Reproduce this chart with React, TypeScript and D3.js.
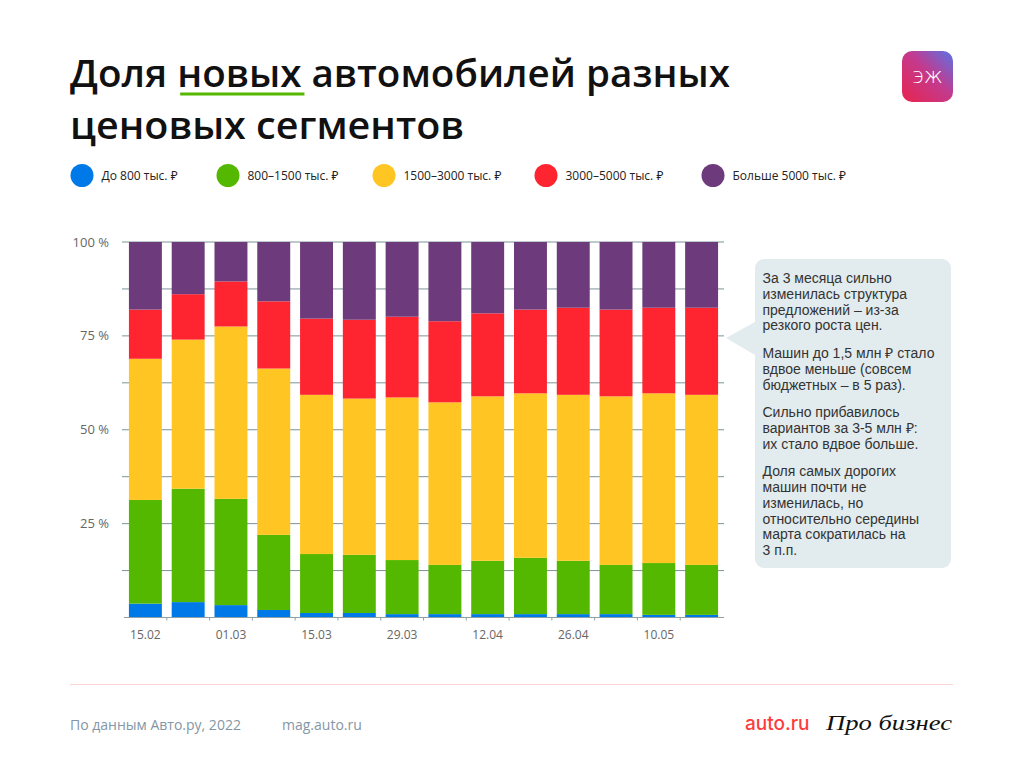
import React, { useLayoutEffect, useRef, useState } from "react";
import * as d3 from "d3";

const dates = ["15.02","22.02","01.03","08.03","15.03","22.03","29.03","05.04","12.04","19.04","26.04","03.05","10.05","17.05"];
const labeledDates = ["15.02","01.03","15.03","29.03","12.04","26.04","10.05"];
const seriesKeys = ["До 800 тыс. ₽","800–1500 тыс. ₽","1500–3000 тыс. ₽","3000–5000 тыс. ₽","Больше 5000 тыс. ₽"];
const seriesColors = ["#0079E8","#55B800","#FFC623","#FF2530","#6D3B7B"];

const under800 = [3.7,4.1,3.3,2.0,1.2,1.2,0.9,0.9,0.9,0.9,0.9,0.9,0.7,0.7];
const from800to1500 = [27.6,30.2,28.3,20.0,15.7,15.5,14.4,13.1,14.2,15.0,14.2,13.1,13.8,13.3];
const from1500to3000 = [37.6,39.7,45.9,44.3,42.4,41.6,43.3,43.3,43.8,43.8,44.2,44.9,45.2,45.3];
const from3000to5000 = [13.1,12.1,12.0,17.9,20.3,21.0,21.5,21.6,22.1,22.3,23.2,23.1,22.8,23.2];
const over5000 = [18.0,13.9,10.5,15.8,20.4,20.7,19.9,21.1,19.0,18.0,17.5,18.0,17.5,17.5];
const seriesValues = [under800, from800to1500, from1500to3000, from3000to5000, over5000];

const yTickValues = [25, 50, 75, 100];
const gridValues = [12.5, 25, 37.5, 50, 62.5, 75, 87.5, 100];

const titleLine1 = "Доля новых автомобилей разных";
const titleLine2 = "ценовых сегментов";
const noteParagraphs = [
  ["За 3 месяца сильно", "изменилась структура", "предложений – из-за", "резкого роста цен."],
  ["Машин до 1,5 млн ₽ стало", "вдвое меньше (совсем", "бюджетных – в 5 раз)."],
  ["Сильно прибавилось", "вариантов за 3-5 млн ₽:", "их стало вдвое больше."],
  ["Доля самых дорогих", "машин почти не", "изменилась, но", "относительно середины", "марта сократилась на", "3 п.п."],
];
const sourceText = "По данным Авто.ру, 2022";
const siteText = "mag.auto.ru";

const FONT = "'Open Sans', 'Noto Sans', sans-serif";
const NOTE_FONT = "'Liberation Sans', Arial, sans-serif";

export default function App() {
  const titleRef = useRef<SVGTextElement>(null);
  const [ul, setUl] = useState<{ x1: number; x2: number } | null>(null);

  useLayoutEffect(() => {
    const t = titleRef.current;
    if (t) {
      try {
        const s = t.getStartPositionOfChar(5).x;
        const e = t.getEndPositionOfChar(9).x;
        setUl({ x1: s, x2: e });
      } catch (err) {}
    }
  }, []);

  const rows = dates.map((d, i) => {
    const r: any = { date: d };
    seriesKeys.forEach((k, j) => (r[k] = seriesValues[j][i]));
    return r;
  });
  const stacked = d3.stack<any>().keys(seriesKeys)(rows);

  const x = d3.scaleBand<string>().domain(dates).range([124, 723]).paddingInner(0.23).paddingOuter(0.115);
  const y = d3.scaleLinear().domain([0, 100]).range([617.5, 242]);

  const legendX = [82, 228, 384, 546, 713];

  const noteLines: { text: string; y: number }[] = [];
  let ly = 283;
  noteParagraphs.forEach((p) => {
    p.forEach((line) => {
      noteLines.push({ text: line, y: ly });
      ly += 15.8;
    });
    ly += 11.7;
  });

  const bandEdges = dates.map((d) => (x(d) as number) - (x.step() - x.bandwidth()) / 2);

  return (
    <svg width={1024} height={768} style={{ position: "absolute", left: 0, top: 0, background: "#fff" }} fontFamily={FONT}>
      <defs>
        <linearGradient id="logoGrad" x1="0" y1="1" x2="1" y2="0">
          <stop offset="0%" stopColor="#E8244E" />
          <stop offset="55%" stopColor="#C33A8E" />
          <stop offset="100%" stopColor="#5873E4" />
        </linearGradient>
      </defs>

      {/* Title */}
      <text ref={titleRef} x={70} y={87} fontSize={37} fontWeight={600} fill="#111" textLength={660} lengthAdjust="spacingAndGlyphs">
        {titleLine1}
      </text>
      <text x={70} y={139} fontSize={37} fontWeight={600} fill="#111" textLength={394} lengthAdjust="spacingAndGlyphs">
        {titleLine2}
      </text>
      {ul && <rect x={ul.x1 + 3} y={92.5} width={ul.x2 - ul.x1} height={3} fill="#55B800" />}

      {/* Logo */}
      <rect x={902} y={51} width={51} height={51} rx={10} fill="url(#logoGrad)" />
      <text x={927.5} y={83} fontSize={21} fill="#fff" textAnchor="middle" fontFamily="'DejaVu Sans', sans-serif" fontWeight={300}>эж</text>

      {/* Legend */}
      {seriesKeys.map((k, i) => (
        <g key={k}>
          <circle cx={legendX[i]} cy={175.5} r={11.5} fill={seriesColors[i]} />
          <text x={legendX[i] + 19.5} y={179.5} fontSize={12} fill="#222">{k}</text>
        </g>
      ))}

      {/* Grid */}
      {gridValues.map((v) => (
        <line key={v} x1={122} x2={724} y1={y(v)} y2={y(v)} stroke="#7D9398" strokeWidth={1} />
      ))}
      {yTickValues.map((v) => (
        <text key={v} x={109} y={y(v) + 4.5} fontSize={13} fill="#666" textAnchor="end">{`${v} %`}</text>
      ))}

      {/* Bars */}
      {stacked.map((s, si) => (
        <g key={s.key} fill={seriesColors[si]}>
          {s.map((d, i) => (
            <rect key={i} x={x(dates[i])} width={x.bandwidth()} y={y(d[1])} height={y(d[0]) - y(d[1])} />
          ))}
        </g>
      ))}

      {/* X axis */}
      <line x1={124} x2={724} y1={617.5} y2={617.5} stroke="#8FA1A6" strokeWidth={1.2} />
      {bandEdges.slice(1).map((e, i) => (
        <line key={i} x1={e} x2={e} y1={617.5} y2={620.5} stroke="#8FA1A6" strokeWidth={1} />
      ))}
      {labeledDates.map((d) => (
        <text key={d} x={(x(d) as number) + x.bandwidth() / 2} y={639} fontSize={12} fill="#666" textAnchor="middle">{d}</text>
      ))}

      {/* Annotation */}
      <rect x={755} y={259} width={196} height={309} rx={9} fill="#E2EBED" />
      <path d="M755,322 L726,338 L755,355 Z" fill="#E2EBED" />
      <text fontSize={14} fill="#333" fontFamily={NOTE_FONT}>
        {noteLines.map((l, i) => (
          <tspan key={i} x={762.5} y={l.y}>{l.text}</tspan>
        ))}
      </text>

      {/* Footer */}
      <line x1={70} x2={953} y1={684.5} y2={684.5} stroke="#FDD3D3" strokeWidth={1} />
      <text x={70} y={730} fontSize={14} fill="#8496A6">{sourceText}</text>
      <text x={282} y={730} fontSize={14} fill="#8496A6">{siteText}</text>
      <text x={745} y={730} fontSize={19} fill="#FF3B3B" fontWeight={500} fontFamily="Inter, sans-serif">auto.ru</text>
      <text x={826} y={730} fontSize={22} fill="#111" fontStyle="italic" fontFamily="'Liberation Serif', serif" textLength={126} lengthAdjust="spacingAndGlyphs">Про бизнес</text>
    </svg>
  );
}
